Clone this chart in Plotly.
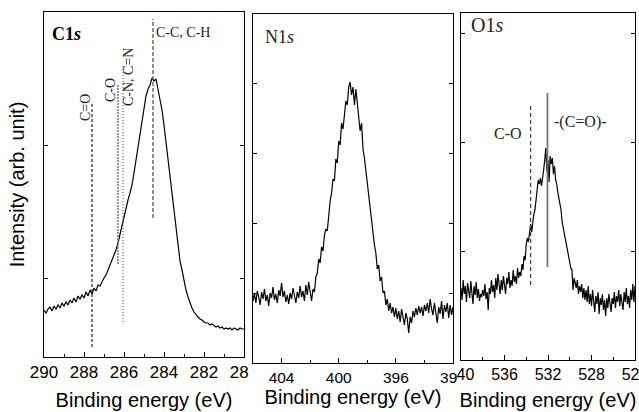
import numpy as np
import plotly.graph_objects as go

# ---------------- data ----------------
# C1s spectrum: binding energy 290.0 -> 280.0 eV, step 0.1 eV
c1s_start, c1s_step = 290.0, -0.1
c1s_counts = [47, 44, 48, 50, 46, 51, 48, 52, 49, 54,
              51, 55, 52, 57, 54, 59, 55, 61, 58, 62,
              59, 65, 61, 67, 63, 69, 66, 72, 71, 76,
              79, 82, 87, 91, 97, 101, 107, 114, 123, 132,
              141, 150, 157, 164, 172, 184, 197, 210, 224, 237,
              251, 261, 268, 272, 279, 276, 278, 267, 259, 247,
              232, 215, 197, 180, 164, 146, 128, 110, 96, 87,
              76, 67, 60, 54, 49, 45, 42, 40, 38, 37,
              35, 34, 34, 32, 33, 31, 30, 31, 29, 30,
              28, 29, 28, 29, 27, 29, 28, 27, 29, 28,
              28]

# N1s spectrum: 406.0 -> 392.0 eV, step 0.1 eV
n1s_start, n1s_step = 406.0, -0.1
n1s_counts = [62, 70, 60, 72, 66, 58, 71, 64, 74, 62,
              68, 57, 70, 65, 76, 63, 69, 60, 73, 67,
              80, 66, 72, 61, 68, 59, 70, 64, 75, 66,
              60, 71, 65, 77, 66, 72, 62, 78, 68, 81,
              70, 62, 74, 71, 86, 90, 104, 100, 116, 112,
              128, 134, 132, 150, 162, 170, 184, 182, 204, 200,
              222, 218, 240, 234, 252, 262, 258, 276, 281, 268,
              276, 258, 274, 262, 248, 232, 240, 214, 205, 192,
              180, 170, 154, 146, 128, 118, 110, 94, 98, 82,
              86, 70, 72, 58, 64, 52, 60, 50, 56, 46,
              55, 44, 52, 41, 54, 47, 38, 50, 44, 30,
              46, 40, 52, 46, 55, 48, 57, 50, 56, 47,
              58, 52, 60, 50, 64, 54, 48, 60, 52, 40,
              56, 49, 62, 44, 58, 51, 60, 45, 58, 48,
              56]

# O1s spectrum: 540.0 -> 524.0 eV, step 0.1 eV
o1s_start, o1s_step = 540.0, -0.1
o1s_counts = [72, 60, 80, 66, 74, 58, 77, 68, 62, 79,
              70, 56, 74, 65, 78, 62, 71, 59, 66, 63,
              70, 64, 76, 61, 68, 50, 72, 66, 80, 68,
              75, 62, 82, 70, 86, 72, 66, 80, 70, 84,
              74, 66, 82, 76, 88, 72, 80, 74, 90, 78,
              84, 76, 92, 82, 88, 84, 96, 90, 104, 100,
              116, 122, 118, 130, 136, 128, 140, 146, 150, 162,
              170, 180, 176, 182, 174, 186, 190, 200, 212, 188,
              200, 178, 204, 196, 202, 186, 194, 180, 176, 168,
              162, 152, 150, 138, 132, 126, 118, 112, 106, 102,
              98, 92, 90, 70, 82, 76, 72, 80, 66, 74,
              68, 76, 62, 72, 60, 70, 58, 74, 56, 66,
              54, 70, 60, 48, 64, 56, 68, 46, 62, 55,
              66, 50, 60, 44, 62, 52, 66, 54, 48, 62,
              56, 68, 52, 64, 58, 70, 54, 66, 60, 50,
              68, 58, 72, 56, 64, 52, 70, 60, 76, 58,
              74]

# component marker lines (energy, lower and upper intensity)
c1s_marker_names = ["C=O", "C-O", "C-N, C=N", "C-C, C-H"]
c1s_marker_E = [287.6, 286.3, 286.05, 284.55]
c1s_marker_lo = [10, 93, 35, 139]
c1s_marker_hi = [255, 272, 292, 338]

o1s_marker_names = ["C-O", "-(C=O)-"]
o1s_marker_E = [533.6, 532.05]
o1s_marker_lo = [75, 93]
o1s_marker_hi = [254, 267]

# tick labels
c1s_tickvals = [290, 288, 286, 284, 282, 280]
c1s_ticktext = ["290", "288", "286", "284", "282", "28\u00a0\u00a0"]
n1s_tickvals = [404, 400, 396, 392]
n1s_ticktext = ["404", "400", "396", "39\u00a0\u00a0"]
o1s_tickvals = [540, 536, 532, 528, 524]
o1s_ticktext = ["\u00a0\u00a040", "536", "532", "528", "524"]

x_title = "Binding energy (eV)"
y_title = "Intensity (arb. unit)"

# ---------------- figure ----------------
W, H = 639, 412
SANS = "Liberation Sans, Arial, sans-serif"
SERIF = "Liberation Serif, Times New Roman, serif"


def grid(start, step, n):
    return np.round(start + step * np.arange(n), 2)


fig = go.Figure()

spectra = [
    (grid(c1s_start, c1s_step, len(c1s_counts)), c1s_counts, "x", "y"),
    (grid(n1s_start, n1s_step, len(n1s_counts)), n1s_counts, "x2", "y2"),
    (grid(o1s_start, o1s_step, len(o1s_counts)), o1s_counts, "x3", "y3"),
]
for xs, ys, xa, ya in spectra:
    fig.add_trace(go.Scatter(x=xs, y=ys, mode="lines", xaxis=xa, yaxis=ya,
                             line=dict(color="black", width=1.2),
                             showlegend=False, hoverinfo="skip"))

c1s_marker_style = [
    dict(color="#111111", width=1.1, dash="3px,2px"),
    dict(color="#808080", width=1.6, dash="2px,1px"),
    dict(color="#555555", width=1.1, dash="1px,2px"),
    dict(color="#555555", width=1.3, dash="4px,2px"),
]
for e, lo, hi, st in zip(c1s_marker_E, c1s_marker_lo, c1s_marker_hi, c1s_marker_style):
    fig.add_trace(go.Scatter(x=[e, e], y=[lo, hi], mode="lines", xaxis="x", yaxis="y",
                             line=st, showlegend=False, hoverinfo="skip"))

o1s_marker_style = [
    dict(color="#444444", width=1.3, dash="4px,3px"),
    dict(color="#777777", width=1.8),
]
for e, lo, hi, st in zip(o1s_marker_E, o1s_marker_lo, o1s_marker_hi, o1s_marker_style):
    fig.add_trace(go.Scatter(x=[e, e], y=[lo, hi], mode="lines", xaxis="x3", yaxis="y3",
                             line=st, showlegend=False, hoverinfo="skip"))


def xdom(a, b):
    return [a / W, b / W]


def ydom(bottom, top):
    return [(H - bottom) / H, (H - top) / H]


def tickfont(size):
    return dict(family=SANS, size=size, color="black")


titlefont = dict(family=SANS, size=20, color="black")

common_x = dict(showline=True, linecolor="black", linewidth=1, mirror=True,
                ticks="inside", ticklen=5, tickcolor="black", showgrid=False,
                zeroline=False, tickmode="array", automargin=False,
                ticklabeloverflow="allow")
common_y = dict(showline=True, linecolor="black", linewidth=1, mirror="ticks",
                ticks="inside", ticklen=4, tickcolor="black", showgrid=False,
                zeroline=False, showticklabels=False, tickmode="linear",
                automargin=False)

fig.update_layout(
    width=W, height=H,
    margin=dict(l=0, r=0, t=0, b=0, autoexpand=False),
    paper_bgcolor="white", plot_bgcolor="white",
    xaxis=dict(common_x, domain=xdom(44, 244), range=[290, 280], anchor="y",
               tickvals=c1s_tickvals, ticktext=c1s_ticktext, tickfont=tickfont(17),
               title=dict(text=x_title, font=titlefont, standoff=11),
               minor=dict(tickmode="linear", tick0=280, dtick=1, ticks="inside",
                          ticklen=3, tickcolor="black")),
    yaxis=dict(common_y, domain=ydom(357, 12), range=[0, 345], anchor="x",
               tick0=79, dtick=133,
               title=dict(text=y_title, font=titlefont, standoff=13)),
    xaxis2=dict(common_x, domain=xdom(253, 453), range=[406, 392], anchor="y2",
                tickvals=n1s_tickvals, ticktext=n1s_ticktext, tickfont=tickfont(15.5),
                title=dict(text=x_title, font=titlefont, standoff=4),
                minor=dict(tickmode="linear", tick0=392, dtick=2, ticks="inside",
                           ticklen=3, tickcolor="black")),
    yaxis2=dict(common_y, domain=ydom(363, 14), range=[0, 349], anchor="x2",
                tick0=0, dtick=70),
    xaxis3=dict(common_x, domain=xdom(461, 635), range=[540, 524], anchor="y3",
                tickvals=o1s_tickvals, ticktext=o1s_ticktext, tickfont=tickfont(16),
                title=dict(text=x_title, font=titlefont, standoff=10),
                minor=dict(tickmode="linear", tick0=524, dtick=2, ticks="inside",
                           ticklen=3, tickcolor="black")),
    yaxis3=dict(common_y, domain=ydom(360, 13), range=[0, 347], anchor="x3",
                tick0=0, dtick=109),
)

ann_font = dict(family=SERIF, size=14, color="#222222")
annotations = [
    dict(text="<b>C1<i>s</i></b>", x=288.9, y=323, xref="x", yref="y",
         font=dict(family=SERIF, size=18, color="black")),
    dict(text="C-C, C-H", x=284.5, y=324, xref="x", yref="y", xanchor="left",
         font=ann_font),
    dict(text="C=O", x=287.95, y=249, xref="x", yref="y", textangle=-90, font=ann_font),
    dict(text="C-O", x=286.7, y=267, xref="x", yref="y", textangle=-90, font=ann_font),
    dict(text="C-N, C=N", x=285.8, y=280, xref="x", yref="y", textangle=-90, font=ann_font),
    dict(text="N1<i>s</i>", x=404.18, y=326, xref="x2", yref="y2",
         font=dict(family=SERIF, size=18, color="#222222")),
    dict(text="O1<i>s</i>", x=537.6, y=335, xref="x3", yref="y3",
         font=dict(family=SERIF, size=20, color="#222222")),
    dict(text="C-O", x=535.7, y=227, xref="x3", yref="y3",
         font=dict(family=SERIF, size=16, color="#222222")),
    dict(text="-(C=O)-", x=529.0, y=238, xref="x3", yref="y3",
         font=dict(family=SERIF, size=16, color="#222222")),
]
for a in annotations:
    a["showarrow"] = False
    fig.add_annotation(**a)

fig.write_html("out.html", config={"displayModeBar": False},
               post_script="document.body.style.margin='0';document.body.style.padding='0';")
